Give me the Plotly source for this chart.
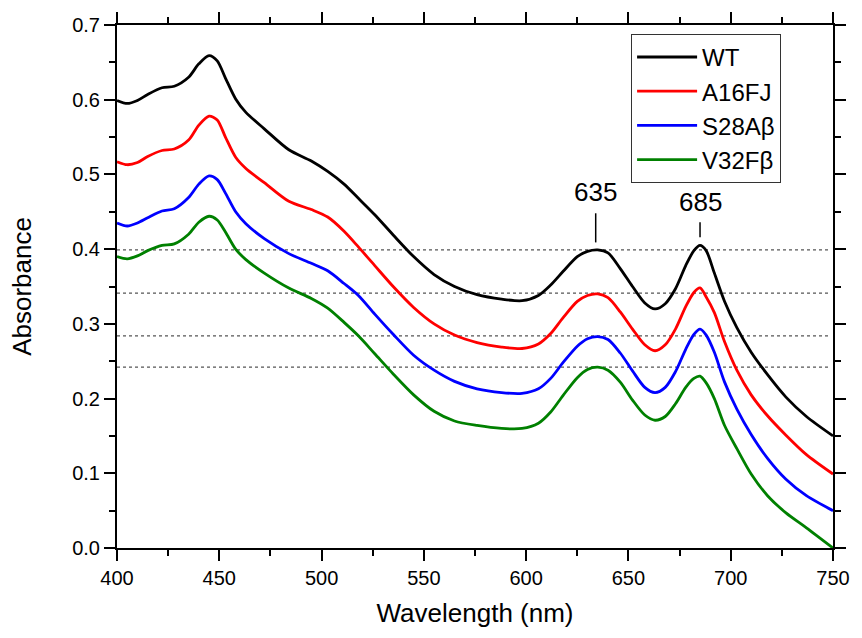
import plotly.graph_objects as go

wavelength = [400, 405, 410, 415, 422, 428, 435, 440, 445, 449, 453, 458, 463, 472, 484, 495,
              503, 511, 518, 526, 535, 545, 555, 565, 576, 588, 598, 606, 612, 618, 625, 630,
              635, 640, 646, 652, 658, 663, 668, 673, 678, 682, 685, 688, 692, 697, 703, 710,
              718, 727, 737, 750]

wt = [0.599, 0.595, 0.599, 0.607, 0.616, 0.618, 0.630, 0.648, 0.659, 0.652, 0.629, 0.601, 0.583,
      0.561, 0.533, 0.518, 0.504, 0.487, 0.468, 0.446, 0.419, 0.390, 0.366, 0.350, 0.339, 0.333,
      0.331, 0.338, 0.352, 0.370, 0.390, 0.397, 0.399, 0.395, 0.374, 0.350, 0.328, 0.320, 0.327,
      0.347, 0.378, 0.398, 0.405, 0.398, 0.368, 0.330, 0.295, 0.262, 0.232, 0.202, 0.176, 0.150]

a16fj = [0.517, 0.513, 0.516, 0.524, 0.532, 0.534, 0.546, 0.566, 0.578, 0.573, 0.550, 0.523, 0.508,
         0.489, 0.464, 0.453, 0.443, 0.424, 0.403, 0.378, 0.350, 0.322, 0.300, 0.285, 0.275, 0.269,
         0.267, 0.273, 0.287, 0.308, 0.330, 0.338, 0.340, 0.335, 0.316, 0.293, 0.272, 0.264, 0.272,
         0.293, 0.323, 0.342, 0.348, 0.336, 0.315, 0.276, 0.238, 0.205, 0.177, 0.151, 0.125, 0.099]

s28ab = [0.435, 0.431, 0.435, 0.442, 0.451, 0.454, 0.469, 0.487, 0.498, 0.493, 0.475, 0.450, 0.434,
         0.414, 0.394, 0.381, 0.371, 0.354, 0.338, 0.313, 0.286, 0.258, 0.238, 0.223, 0.213, 0.208,
         0.207, 0.213, 0.227, 0.248, 0.270, 0.280, 0.283, 0.279, 0.261, 0.237, 0.215, 0.208, 0.215,
         0.236, 0.266, 0.286, 0.293, 0.285, 0.262, 0.222, 0.186, 0.152, 0.120, 0.092, 0.070, 0.050]

v32fb = [0.390, 0.387, 0.391, 0.398, 0.405, 0.407, 0.420, 0.436, 0.444, 0.439, 0.423, 0.400, 0.386,
         0.368, 0.348, 0.334, 0.321, 0.302, 0.284, 0.260, 0.233, 0.205, 0.183, 0.170, 0.164, 0.160,
         0.160, 0.167, 0.182, 0.204, 0.228, 0.239, 0.242, 0.238, 0.222, 0.198, 0.178, 0.171, 0.176,
         0.193, 0.215, 0.227, 0.230, 0.221, 0.200, 0.164, 0.133, 0.099, 0.070, 0.047, 0.027, 0.000]

series_names = ["WT", "A16FJ", "S28A\u03b2", "V32F\u03b2"]
series_values = [wt, a16fj, s28ab, v32fb]
series_colors = ["#000000", "#ff0000", "#0000ff", "#008000"]

ref_levels = [0.399, 0.341, 0.284, 0.242]
peak_labels = ["635", "685"]
peak_positions = [634, 685]
peak_text_y = [0.476, 0.463]
peak_line_y = [(0.409, 0.448), (0.416, 0.436)]

FONT = "Arial, 'Liberation Sans', sans-serif"

fig = go.Figure()
for name, vals, col in zip(series_names, series_values, series_colors):
    fig.add_trace(go.Scatter(x=wavelength, y=vals, mode="lines", name=name,
                             line=dict(color=col, width=2.8, shape="spline", smoothing=0.8)))

for lv in ref_levels:
    fig.add_shape(type="line", xref="x", yref="y", x0=400, x1=748, y0=lv, y1=lv,
                  line=dict(color="#555555", width=1.3, dash="dot"), layer="below")

for lab, xp, ty, (ly0, ly1) in zip(peak_labels, peak_positions, peak_text_y, peak_line_y):
    fig.add_shape(type="line", xref="x", yref="y", x0=xp, x1=xp, y0=ly0, y1=ly1,
                  line=dict(color="black", width=1.5))
    fig.add_annotation(x=xp, y=ty, xref="x", yref="y", text=lab, showarrow=False,
                       font=dict(family=FONT, size=26, color="black"))

axis_common = dict(showline=True, linecolor="black", linewidth=2, mirror="ticks",
                   ticks="outside", ticklen=11, tickwidth=2, tickcolor="black",
                   showgrid=False, zeroline=False,
                   tickfont=dict(family=FONT, size=20, color="black"))

fig.update_xaxes(range=[400, 750], dtick=50, tick0=400,
                 minor=dict(ticks="outside", ticklen=6, tickwidth=2, tickcolor="black", dtick=25),
                 title=dict(text="Wavelength (nm)", font=dict(family=FONT, size=26, color="black"),
                            standoff=16),
                 **axis_common)
fig.update_yaxes(range=[0, 0.7], dtick=0.1, tick0=0, tickformat=".1f",
                 minor=dict(ticks="outside", ticklen=6, tickwidth=2, tickcolor="black", dtick=0.05),
                 title=dict(text="Absorbance", font=dict(family=FONT, size=26, color="black"),
                            standoff=33),
                 **axis_common)

fig.update_layout(
    width=862, height=638,
    margin=dict(l=117, r=25, t=21, b=90),
    paper_bgcolor="white", plot_bgcolor="white",
    showlegend=True,
    legend=dict(x=0.718, y=0.983, xanchor="left", yanchor="top",
                bordercolor="#333333", borderwidth=1, bgcolor="white",
                font=dict(family=FONT, size=24, color="black"),
                itemwidth=60, tracegroupgap=0),
)

fig.write_html("out.html")
